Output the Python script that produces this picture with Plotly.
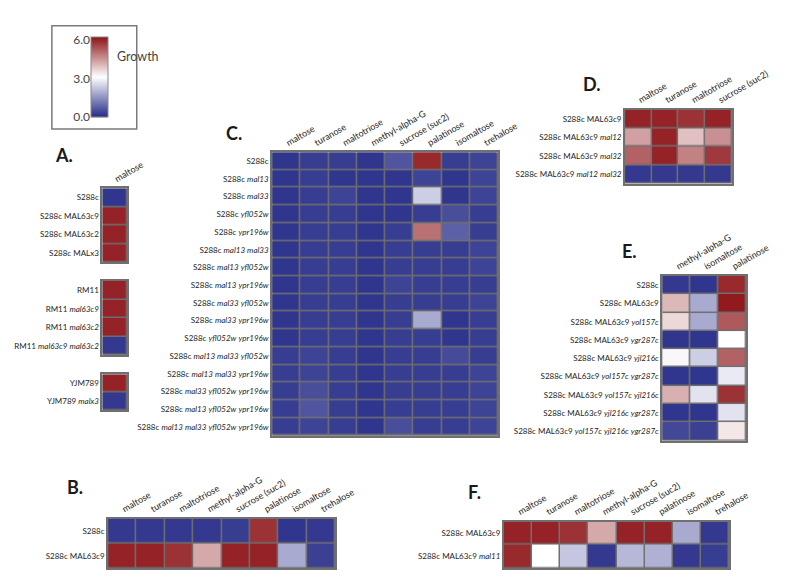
import plotly.graph_objects as go

W, H = 800, 577
FONT = "Lato, 'Open Sans', sans-serif"
GAP = '#707070'
TXT = '#252525'

colorscale = [[0.0, '#252b87'], [0.5, '#ffffff'], [1.0, '#8c1216']]

# ---------------- data ----------------
a_cols = ['maltose']
a1_rows = ['S288c', 'S288c MAL63c9', 'S288c MAL63c2', 'S288c MALx3']
a1_vals = [[0.15], [5.8], [5.8], [5.8]]
a2_rows = ['RM11', 'RM11 mal63c9', 'RM11 mal63c2', 'RM11 mal63c9 mal63c2']
a2_vals = [[5.8], [5.8], [5.8], [0.2]]
a3_rows = ['YJM789', 'YJM789 malx3']
a3_vals = [[5.8], [0.2]]

sugars8 = ['maltose', 'turanose', 'maltotriose', 'methyl-alpha-G',
           'sucrose (suc2)', 'palatinose', 'isomaltose', 'trehalose']

c_rows = ['S288c', 'S288c mal13', 'S288c mal33', 'S288c yfl052w', 'S288c ypr196w',
          'S288c mal13 mal33', 'S288c mal13 yfl052w', 'S288c mal13 ypr196w',
          'S288c mal33 yfl052w', 'S288c mal33 ypr196w', 'S288c yfl052w ypr196w',
          'S288c mal13 mal33 yfl052w', 'S288c mal13 mal33 ypr196w',
          'S288c mal33 yfl052w ypr196w', 'S288c mal13 yfl052w ypr196w',
          'S288c mal13 mal33 yfl052w ypr196w']
c_vals = [
    [0.15, 0.25, 0.25, 0.15, 0.6, 5.7, 0.25, 0.35],
    [0.15, 0.25, 0.15, 0.15, 0.15, 0.35, 0.15, 0.35],
    [0.15, 0.25, 0.35, 0.15, 0.15, 2.3, 0.15, 0.35],
    [0.15, 0.25, 0.25, 0.15, 0.15, 0.25, 0.5, 0.25],
    [0.15, 0.25, 0.25, 0.15, 0.25, 4.8, 0.75, 0.25],
    [0.15, 0.25, 0.25, 0.15, 0.25, 0.25, 0.25, 0.35],
    [0.15, 0.25, 0.25, 0.15, 0.25, 0.25, 0.25, 0.35],
    [0.15, 0.25, 0.25, 0.15, 0.35, 0.25, 0.25, 0.25],
    [0.15, 0.25, 0.25, 0.15, 0.25, 0.25, 0.25, 0.35],
    [0.15, 0.25, 0.25, 0.15, 0.25, 1.8, 0.15, 0.25],
    [0.15, 0.25, 0.25, 0.15, 0.25, 0.25, 0.15, 0.25],
    [0.25, 0.35, 0.25, 0.15, 0.25, 0.25, 0.45, 0.25],
    [0.25, 0.35, 0.25, 0.15, 0.25, 0.25, 0.25, 0.35],
    [0.25, 0.5, 0.25, 0.15, 0.25, 0.25, 0.25, 0.35],
    [0.25, 0.6, 0.25, 0.15, 0.25, 0.25, 0.25, 0.35],
    [0.25, 0.35, 0.25, 0.15, 0.5, 0.25, 0.25, 0.35],
]

d_cols = ['maltose', 'turanose', 'maltotriose', 'sucrose (suc2)']
d_rows = ['S288c MAL63c9', 'S288c MAL63c9 mal12', 'S288c MAL63c9 mal32',
          'S288c MAL63c9 mal12 mal32']
d_vals = [
    [5.8, 5.8, 5.6, 5.8],
    [4.2, 5.8, 3.8, 4.4],
    [5.0, 5.8, 4.6, 5.5],
    [0.2, 0.2, 0.2, 0.2],
]

e_cols = ['methyl-alpha-G', 'isomaltose', 'palatinose']
e_rows = ['S288c', 'S288c MAL63c9', 'S288c MAL63c9 yol157c', 'S288c MAL63c9 ygr287c',
          'S288c MAL63c9 yjl216c', 'S288c MAL63c9 yol157c ygr287c',
          'S288c MAL63c9 yol157c yjl216c', 'S288c MAL63c9 yjl216c ygr287c',
          'S288c MAL63c9 yol157c yjl216c ygr287c']
e_vals = [
    [0.2, 0.15, 5.7],
    [3.9, 1.8, 5.9],
    [3.5, 1.8, 5.1],
    [0.15, 0.15, 3.0],
    [2.9, 2.3, 5.0],
    [0.15, 0.15, 2.7],
    [4.0, 2.6, 5.6],
    [0.15, 0.15, 2.6],
    [0.4, 0.3, 3.3],
]

b_rows = ['S288c', 'S288c MAL63c9']
b_vals = [
    [0.2, 0.2, 0.2, 0.2, 0.25, 5.6, 0.15, 0.2],
    [5.8, 5.8, 5.6, 4.1, 5.8, 5.8, 1.8, 0.3],
]

f_rows = ['S288c MAL63c9', 'S288c MAL63c9 mal11']
f_vals = [
    [5.8, 5.8, 5.6, 4.1, 5.8, 5.8, 1.8, 0.2],
    [5.7, 3.0, 2.2, 0.2, 2.0, 1.9, 0.2, 0.25],
]

legend_ticks = [0, 3, 6]
legend_ticktext = ['0.0', '3.0', '6.0']


def fmt(label):
    # italicise gene names (lower-case tokens)
    return ' '.join('<i>%s</i>' % t if t[0].islower() else t for t in label.split(' '))


fig = go.Figure()
layout = {}


def px_x(p):
    return p / W


def px_y(p):
    return 1 - p / H


def add_panel(idx, cols, rows, vals, x0, x1, y0, y1, show_x=True, showscale=False):
    xa = 'x' if idx == 1 else 'x%d' % idx
    ya = 'y' if idx == 1 else 'y%d' % idx
    tr = go.Heatmap(z=vals, x=cols, y=[fmt(r) for r in rows],
                    xaxis=xa, yaxis=ya, colorscale=colorscale, zmin=0, zmax=6,
                    xgap=1.5, ygap=1.5, showscale=showscale, hoverongaps=False)
    if showscale:
        tr.colorbar = dict(x=px_x(87), xanchor='left', y=px_y(104), yanchor='bottom',
                           len=80, lenmode='pixels', thickness=17, thicknessmode='pixels',
                           xpad=0, ypad=0, outlinewidth=1, outlinecolor='#8a8a8a',
                           showticklabels=False, ticks='')
    fig.add_trace(tr)
    layout['xaxis' if idx == 1 else 'xaxis%d' % idx] = dict(
        domain=[px_x(x0), px_x(x1)], anchor=ya, side='top', tickangle=-30,
        showgrid=False, zeroline=False, ticks='', showline=True, mirror=True,
        linecolor=GAP, linewidth=2, showticklabels=show_x,
        tickfont=dict(size=9, color=TXT, family=FONT), fixedrange=True)
    layout['yaxis' if idx == 1 else 'yaxis%d' % idx] = dict(
        domain=[px_y(y1), px_y(y0)], anchor=xa, autorange='reversed',
        showgrid=False, zeroline=False, ticks='', showline=True, mirror=True,
        linecolor=GAP, linewidth=2,
        tickfont=dict(size=8, color=TXT, family=FONT), fixedrange=True)


add_panel(1, sugars8, c_rows, c_vals, 277, 514, 140, 431, showscale=True)
add_panel(2, a_cols, a1_rows, a1_vals, 99, 125, 177, 253)
add_panel(3, a_cols, a2_rows, a2_vals, 99, 125, 272, 348, show_x=False)
add_panel(4, a_cols, a3_rows, a3_vals, 99, 125, 368, 405, show_x=False)
add_panel(5, d_cols, d_rows, d_vals, 647, 759, 96, 172)
add_panel(6, e_cols, e_rows, e_vals, 686, 774, 267, 436)
add_panel(7, sugars8, b_rows, b_vals, 105, 343, 516, 567)
add_panel(8, sugars8, f_rows, f_vals, 520, 756, 519, 567)

# dummy axis carrying the legend tick labels to the left of the colour bar
fig.add_trace(go.Scatter(x=[0.5] * len(legend_ticks), y=legend_ticks, xaxis='x9', yaxis='y9',
                         mode='markers', marker=dict(opacity=0, size=1),
                         hoverinfo='skip', showlegend=False))
layout['xaxis9'] = dict(domain=[px_x(87), px_x(104)], anchor='y9', visible=False,
                        range=[0, 1], fixedrange=True)
layout['yaxis9'] = dict(domain=[px_y(104), px_y(24)], anchor='x9', range=[0, 6],
                        tickvals=legend_ticks, ticktext=legend_ticktext, ticks='',
                        showgrid=False, zeroline=False, showline=False, side='left',
                        tickfont=dict(size=12, color='#444', family=FONT), fixedrange=True)

annotations = [
    dict(text='Growth', x=px_x(112), y=px_y(42), xanchor='left', yanchor='middle',
         font=dict(size=12.5, color='#444', family=FONT)),
]
for lab, x, y in [('A.', 59, 143), ('C.', 237, 120), ('D.', 612, 70),
                  ('E.', 652, 241), ('B.', 70, 484), ('F.', 489, 489)]:
    annotations.append(dict(text='<b>%s</b>' % lab, x=px_x(x), y=px_y(y),
                            xanchor='center', yanchor='middle',
                            font=dict(size=18, color='#1a1a1a', family=FONT)))
for a in annotations:
    a.update(xref='paper', yref='paper', showarrow=False)

layout['annotations'] = annotations
layout['shapes'] = [dict(type='rect', xref='paper', yref='paper',
                         x0=px_x(46), x1=px_x(135), y0=px_y(116), y1=px_y(10),
                         line=dict(color='#7a7a7a', width=1.5))]

fig.update_layout(**layout)
fig.update_layout(width=W, height=H, margin=dict(l=0, r=0, t=0, b=0),
                  paper_bgcolor='white', plot_bgcolor=GAP,
                  font=dict(family=FONT, color=TXT))

fig.write_html('out.html')
